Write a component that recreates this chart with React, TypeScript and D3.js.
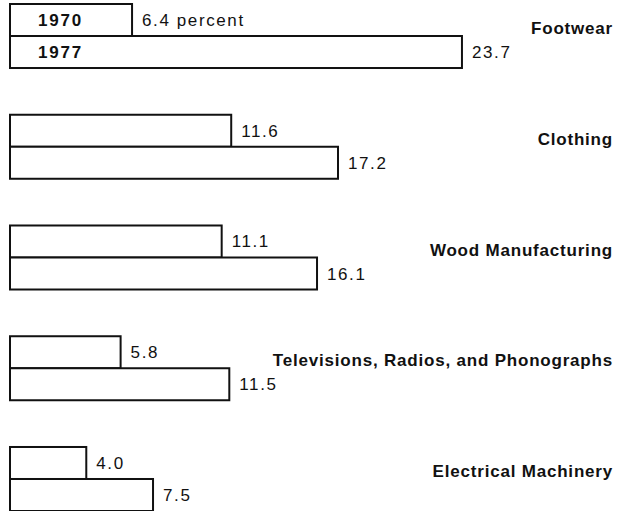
import React from "react";
import * as d3 from "d3";

const categories = [
  "Footwear",
  "Clothing",
  "Wood Manufacturing",
  "Televisions, Radios, and Phonographs",
  "Electrical Machinery",
];
const years = ["1970", "1977"];
const values1970 = [6.4, 11.6, 11.1, 5.8, 4.0];
const values1977 = [23.7, 17.2, 16.1, 11.5, 7.5];
const valueLabels1970 = ["6.4 percent", "11.6", "11.1", "5.8", "4.0"];
const valueLabels1977 = ["23.7", "17.2", "16.1", "11.5", "7.5"];

const W = 621;
const H = 511;
const FONT = "'Liberation Sans', Arial, Helvetica, sans-serif";

export default function App() {
  const x = d3.scaleLinear().domain([0, 24]).range([10, 10 + 24 * 19.07]);
  const y = d3
    .scaleBand<string>()
    .domain(categories)
    .range([4, 511])
    .paddingInner(0.422)
    .paddingOuter(0);
  const yInner = d3
    .scaleBand<string>()
    .domain(years)
    .range([0, y.bandwidth()]);
  const bh = yInner.bandwidth();

  return (
    <svg
      width={W}
      height={H}
      style={{ position: "absolute", left: 0, top: 0, background: "#fff" }}
      fontFamily={FONT}
    >
      {categories.map((c, i) => {
        const g0 = y(c)!;
        const rows = [
          { yr: "1970", v: values1970[i], lab: valueLabels1970[i] },
          { yr: "1977", v: values1977[i], lab: valueLabels1977[i] },
        ];
        return (
          <g key={c}>
            {rows.map((r) => {
              const yy = g0 + yInner(r.yr)!;
              return (
                <g key={r.yr}>
                  <rect
                    x={x(0)}
                    y={yy}
                    width={x(r.v) - x(0)}
                    height={bh}
                    fill="#fff"
                    stroke="#111"
                    strokeWidth={2}
                  />
                  <text
                    x={x(r.v) + 10}
                    y={yy + bh / 2 + 6}
                    fontSize={17}
                    letterSpacing={1.6}
                    fill="#111"
                  >
                    {r.lab}
                  </text>
                  {i === 0 && (
                    <text
                      x={38}
                      y={yy + bh / 2 + 6}
                      fontSize={17}
                      fontWeight="bold"
                      letterSpacing={1.8}
                      fill="#111"
                    >
                      {r.yr}
                    </text>
                  )}
                </g>
              );
            })}
            <text
              x={613}
              y={g0 + bh - 2}
              textAnchor="end"
              fontSize={17}
              fontWeight="bold"
              letterSpacing={0.8}
              fill="#111"
            >
              {c}
            </text>
          </g>
        );
      })}
    </svg>
  );
}
